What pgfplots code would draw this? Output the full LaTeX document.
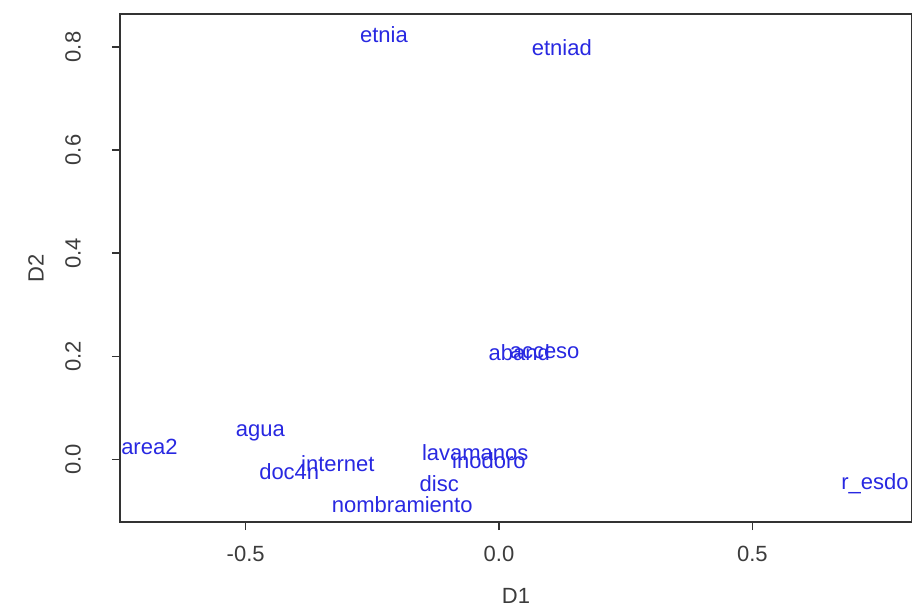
\documentclass[border=0pt]{standalone}
\usepackage{pgfplots}
\pgfplotsset{compat=1.18}
\usepackage{fontspec}
\setmainfont{Liberation Sans}
\definecolor{rblue}{RGB}{40,40,225}
\definecolor{tickgray}{RGB}{60,60,60}
\begin{document}
\begin{tikzpicture}
\begin{axis}[
  name=ax,
  scale only axis,
  width=396pt, height=254pt,
  xmin=-0.748, xmax=0.815,
  ymin=-0.122, ymax=0.864,
  xtick={-0.5,0,0.5},
  ytick={0,0.2,0.4,0.6,0.8},
  xtick pos=bottom, ytick pos=left,
  tick align=outside,
  major tick length=4pt,
  axis line style={black!80, line width=0.6pt},
  every tick/.style={black!80, line width=0.6pt},
  /pgf/number format/assume math mode=true,
  /pgf/number format/.cd, fixed, fixed zerofill, precision=1,
  /pgfplots/.cd,
  ticklabel style={font=\fontsize{11}{13}\selectfont, text=tickgray},
  xticklabel style={anchor=center, yshift=-12pt},
  yticklabel style={rotate=90, anchor=center, yshift=19.5pt},
  xlabel={D1}, ylabel={D2},
  label style={font=\fontsize{11}{13}\selectfont, text=tickgray},
  xlabel style={at={(axis description cs:0.5,0)}, anchor=center, yshift=-37pt},
  ylabel style={at={(axis description cs:0,0.5)}, anchor=center, yshift=42pt},
  clip marker paths=true,
  nodes near coords,
  point meta=explicit symbolic,
  every node near coord/.style={anchor=center, font=\fontsize{11}{13}\selectfont, text=rblue, inner sep=0pt},
]
\addplot[only marks, mark=none, draw=none] table[meta=lab] {
x y lab
-0.227 0.823 etnia
0.124 0.798 etniad
0.040 0.206 aband
0.090 0.206 acceso
-0.471 0.052 agua
-0.690 0.023 area2
-0.414 -0.025 doc4n
-0.318 -0.008 internet
-0.047 0.012 lavamanos
-0.020 -0.002 inodoro
-0.118 -0.047 disc
-0.191 -0.089 nombramiento
0.742 -0.047 r\_esdo
};
\end{axis}
\pgfresetboundingbox
\path ([xshift=-60pt,yshift=-41pt]ax.south west) rectangle ([yshift=7pt]ax.north east);
\end{tikzpicture}
\end{document}
